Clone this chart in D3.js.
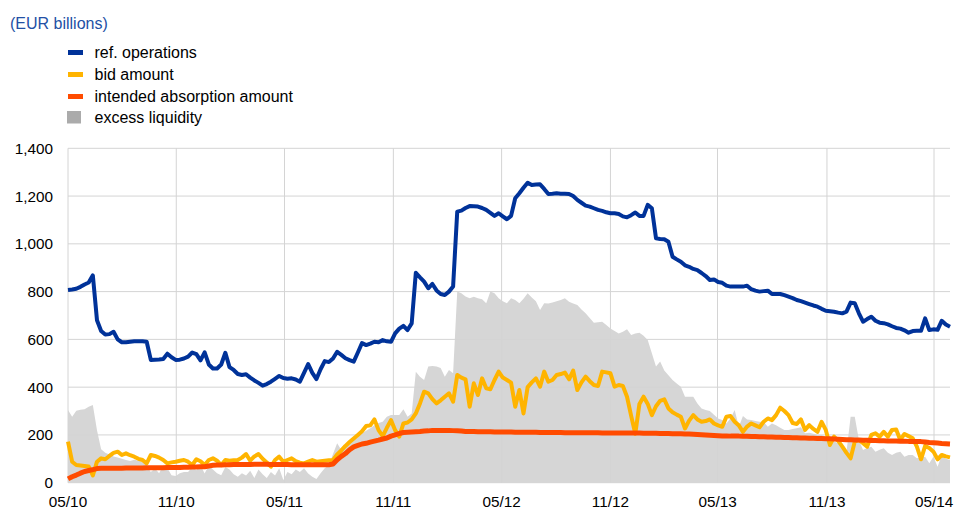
<!DOCTYPE html>
<html>
<head>
<meta charset="utf-8">
<script src="https://cdn.jsdelivr.net/npm/d3@7"></script>
<style>
  body { margin: 0; background: #fff; }
  svg text { font-family: Arial, "Liberation Sans", sans-serif; }
</style>
</head>
<body>
<div id="chart"></div>
<script>
// Weekly observations, first one on 4 May 2010 (214 weeks)
const firstWeek = "2010-05-04";

// ref. operations (EUR billions)
const refOperations = [
  807,809,812,820,830,838,868,680,635,620,
  622,632,600,588,588,590,592,592,592,590,
  514,515,516,518,540,525,514,515,520,528,
  545,538,512,546,495,478,478,495,544,484,
  472,455,451,454,440,428,418,406,413,423,
  435,447,438,435,437,432,423,460,497,460,
  434,475,509,505,520,548,535,521,513,507,
  545,585,576,582,590,588,597,592,590,625,
  645,657,639,667,879,860,842,814,832,805,
  790,786,800,821,1135,1139,1150,1158,1157,1156,
  1150,1142,1130,1117,1128,1115,1103,1117,1191,1212,
  1235,1256,1246,1248,1249,1230,1209,1210,1212,1210,
  1210,1209,1200,1184,1172,1160,1156,1149,1142,1138,
  1132,1128,1128,1125,1115,1111,1120,1131,1117,1117,
  1163,1149,1023,1020,1019,1009,946,935,925,910,
  904,895,890,878,865,849,851,840,837,825,
  821,821,821,821,825,810,804,800,802,804,
  790,790,790,785,779,773,765,760,754,748,
  742,737,728,720,718,716,712,709,716,754,
  751,709,674,685,695,678,670,668,663,655,
  648,645,638,628,635,636,636,688,639,642,
  640,678,662,653
];

// bid amount
const bidAmount = [
  172,88,74,72,70,68,30,88,102,98,
  112,125,130,116,123,115,109,100,95,81,
  116,112,105,95,81,85,88,92,95,88,
  74,98,90,74,95,102,92,74,95,92,
  94,95,105,120,92,110,120,100,85,67,
  95,109,88,95,102,90,84,81,88,95,
  88,90,92,94,95,118,135,154,170,185,
  200,215,237,240,265,220,195,230,262,220,
  193,248,252,265,290,332,381,374,350,332,
  345,360,374,339,451,440,433,318,416,367,
  437,395,391,430,465,440,430,419,318,388,
  290,400,420,437,402,465,423,430,451,455,
  461,433,469,388,420,444,425,409,405,465,
  462,458,402,409,405,360,280,205,330,360,
  330,283,320,343,349,311,295,285,276,227,
  260,283,265,255,258,265,248,240,234,276,
  279,255,240,213,235,248,240,232,255,269,
  262,283,314,300,283,250,246,265,221,241,
  225,213,255,221,158,193,175,151,125,102,
  172,179,165,151,200,207,193,213,193,221,
  223,179,204,195,186,151,98,154,145,130,
  98,116,110,106
];

// intended absorption amount
const intendedAbsorption = [
  16,25,32,40,47,51,55,59,60,60,
  61,61,61,61,62,62,62,62,62,63,
  63,63,63,63,64,64,64,64,65,65,
  66,66,67,67,70,73,74,74,75,75,
  76,76,76,76,76,77,77,77,77,76,
  76,76,76,76,75,75,75,75,75,75,
  75,75,75,75,78,96,110,122,138,150,
  156,162,165,170,174,178,183,187,195,200,
  206,210,211,212,213,214,216,217,219,219,
  219,219,219,218,217,216,214,214,214,213,
  213,213,213,212,212,212,212,212,211,211,
  211,211,211,211,210,210,210,210,210,210,
  209,209,209,209,209,209,209,209,209,208,
  208,208,208,208,208,208,208,208,208,207,
  207,207,207,206,206,206,205,205,205,204,
  204,203,202,201,200,199,198,197,196,196,
  195,195,195,194,194,193,193,192,192,191,
  191,190,190,189,189,188,188,187,187,186,
  186,185,185,184,184,183,182,181,180,180,
  179,179,178,178,177,177,176,176,175,175,
  175,174,174,173,173,172,172,170,168,167,
  166,164,163,162
];

// excess liquidity
const excessLiquidity = [
  304,276,301,305,307,318,325,220,140,125,
  118,110,106,100,95,91,96,92,87,70,
  45,59,40,73,60,31,28,40,45,45,
  66,52,73,38,73,55,40,31,66,55,
  35,25,40,30,50,20,55,35,20,45,
  30,60,11,45,35,55,45,60,39,25,
  15,40,60,74,120,165,137,160,172,179,
  190,207,218,228,240,250,255,276,283,283,
  283,307,276,290,465,444,430,486,489,486,
  480,444,472,458,800,793,780,772,779,772,
  768,751,800,793,772,760,751,772,765,751,
  770,793,775,760,723,751,750,754,760,765,
  772,758,750,744,725,709,690,670,672,674,
  660,646,635,625,632,642,618,625,628,615,
  597,542,486,507,470,450,430,415,402,360,
  360,360,332,311,304,300,285,269,262,248,
  270,304,234,279,265,262,258,255,255,234,
  248,240,230,221,221,225,228,232,207,209,
  205,200,200,193,185,172,165,158,130,276,
  276,179,137,145,151,130,138,144,125,116,
  125,130,109,116,116,102,105,109,81,109,
  67,116,100,95
];

const yTicks = [0, 200, 400, 600, 800, 1000, 1200, 1400];
const xTickDates = ["2010-05-04", "2010-11-03", "2011-05-05", "2011-11-05", "2012-05-06",
                    "2012-11-06", "2013-05-06", "2013-11-07", "2014-05-07"];
const xTickLabels = ["05/10", "11/10", "05/11", "11/11", "05/12", "11/12", "05/13", "11/13", "05/14"];

const seriesNames = ["ref. operations", "bid amount", "intended absorption amount", "excess liquidity"];

const drawChart = () => {
  const width = 955;
  const height = 509;
  const plot = {left: 68, right: 950, top: 148.3, bottom: 482.7};

  const blue = "#003299";
  const yellow = "#ffb400";
  const orange = "#ff4b00";
  const areaGrey = "#d6d6d6";
  const gridGrey = "#d4d4d4";

  const parse = d3.timeParse("%Y-%m-%d");
  const start = parse(firstWeek);
  const dates = refOperations.map((_, i) => d3.timeDay.offset(start, 7 * i));

  const data = dates.map((date, i) => ({
    date,
    ref: refOperations[i],
    bid: bidAmount[i],
    absorb: intendedAbsorption[i],
    excess: excessLiquidity[i]
  }));

  const svg = d3.select("#chart")
    .append("svg")
      .attr("width", width)
      .attr("height", height)
      .attr("viewBox", `0 0 ${width} ${height}`);

  // Scales
  const xScale = d3.scaleTime()
    .domain([dates[0], dates[dates.length - 1]])
    .range([plot.left, plot.right]);

  const yScale = d3.scaleLinear()
    .domain([0, 1400])
    .range([plot.bottom, plot.top]);

  // Excess liquidity area
  const areaGenerator = d3.area()
    .x(d => xScale(d.date))
    .y0(yScale(0))
    .y1(d => yScale(d.excess));

  svg.append("path")
    .attr("d", areaGenerator(data))
    .attr("fill", areaGrey);

  // Gridlines
  svg.append("g")
    .selectAll("line")
    .data(yTicks)
    .join("line")
      .attr("x1", plot.left)
      .attr("x2", plot.right)
      .attr("y1", d => yScale(d))
      .attr("y2", d => yScale(d))
      .attr("stroke", gridGrey)
      .attr("stroke-width", 1);

  svg.append("g")
    .selectAll("line")
    .data(xTickDates)
    .join("line")
      .attr("x1", d => xScale(parse(d)))
      .attr("x2", d => xScale(parse(d)))
      .attr("y1", plot.top)
      .attr("y2", plot.bottom)
      .attr("stroke", gridGrey)
      .attr("stroke-width", 1);

  // Axis labels
  svg.append("g")
    .selectAll("text")
    .data(yTicks)
    .join("text")
      .attr("x", 53)
      .attr("y", d => yScale(d))
      .attr("dy", "0.36em")
      .attr("text-anchor", "end")
      .attr("font-size", "15.3px")
      .attr("fill", "#000")
      .text(d3.format(","));

  svg.append("g")
    .selectAll("text")
    .data(xTickDates)
    .join("text")
      .attr("x", d => xScale(parse(d)))
      .attr("y", 506.5)
      .attr("text-anchor", "middle")
      .attr("font-size", "15.3px")
      .attr("fill", "#000")
      .text((d, i) => xTickLabels[i]);

  // Lines
  const lineFor = key => d3.line()
    .x(d => xScale(d.date))
    .y(d => yScale(d[key]));

  svg.append("path")
    .attr("d", lineFor("bid")(data))
    .attr("fill", "none")
    .attr("stroke", yellow)
    .attr("stroke-width", 4)
    .attr("stroke-linejoin", "round");

  svg.append("path")
    .attr("d", lineFor("absorb")(data))
    .attr("fill", "none")
    .attr("stroke", orange)
    .attr("stroke-width", 5)
    .attr("stroke-linejoin", "round");

  svg.append("path")
    .attr("d", lineFor("ref")(data))
    .attr("fill", "none")
    .attr("stroke", blue)
    .attr("stroke-width", 4)
    .attr("stroke-linejoin", "round");

  // Unit label
  svg.append("text")
    .attr("x", 10)
    .attr("y", 28.5)
    .attr("font-size", "16px")
    .attr("fill", "#2350a5")
    .text("(EUR billions)");

  // Legend
  const legendColors = [blue, yellow, orange, "#ababab"];
  const legendY = [52.5, 74.5, 96.5, 117];
  const legend = svg.append("g");

  seriesNames.forEach((name, i) => {
    if (i < 3) {
      legend.append("rect")
        .attr("x", 68)
        .attr("y", legendY[i] - 2.5)
        .attr("width", 15)
        .attr("height", 5)
        .attr("fill", legendColors[i]);
    } else {
      legend.append("rect")
        .attr("x", 67)
        .attr("y", legendY[i] - 6)
        .attr("width", 14)
        .attr("height", 12.5)
        .attr("fill", legendColors[i]);
    }
    legend.append("text")
      .attr("x", 94.5)
      .attr("y", legendY[i] + 5.5)
      .attr("font-size", "16px")
      .attr("fill", "#000")
      .text(name);
  });
};

drawChart();
</script>
</body>
</html>
